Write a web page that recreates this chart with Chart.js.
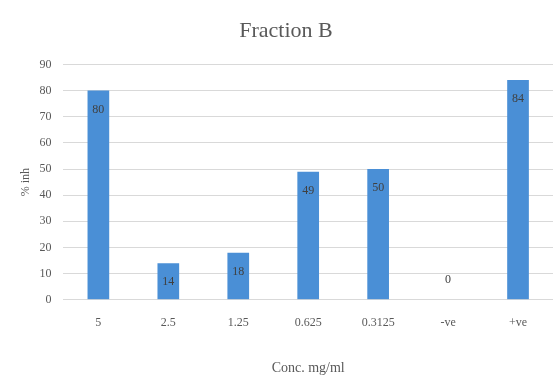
<!DOCTYPE html>
<html>
<head>
<meta charset="utf-8">
<script src="https://cdn.jsdelivr.net/npm/chart.js@4/dist/chart.umd.min.js"></script>
<style>
  html, body { margin: 0; padding: 0; background: #fff; }
  #wrap { width: 553px; height: 381px; }
</style>
</head>
<body>
<div id="wrap"><canvas id="c" width="553" height="381"></canvas></div>
<script>
// Concentrations tested and % inhibition for Fraction B
const categories = ['5', '2.5', '1.25', '0.625', '0.3125', '-ve', '+ve'];
const inhibition = [80, 14, 18, 49, 50, 0, 84];
const yTicks = [0, 10, 20, 30, 40, 50, 60, 70, 80, 90];

const FONT = '"Liberation Serif", serif';
const TEXT = '#595959';

// Value labels placed just inside the top of each bar (above the axis for zero)
const valueLabels = {
  id: 'valueLabels',
  afterDatasetsDraw(chart) {
    const ctx = chart.ctx;
    const meta = chart.getDatasetMeta(0);
    ctx.save();
    ctx.font = '12px ' + FONT;
    ctx.fillStyle = '#404040';
    ctx.textAlign = 'center';
    ctx.textBaseline = 'middle';
    meta.data.forEach((bar, i) => {
      const v = chart.data.datasets[0].data[i];
      const y = v === 0 ? bar.y - 20 : bar.y + 19;
      ctx.fillText(String(v), bar.x, y);
    });
    ctx.restore();
  }
};

new Chart(document.getElementById('c'), {
  type: 'bar',
  data: {
    labels: categories,
    datasets: [{
      data: inhibition,
      backgroundColor: '#4a8fd6',
      borderWidth: 0,
      categoryPercentage: 1,
      barPercentage: 0.31
    }]
  },
  options: {
    responsive: false,
    animation: false,
    layout: { padding: { left: 19, right: 0, top: 11, bottom: 4 } },
    plugins: {
      legend: { display: false },
      tooltip: { enabled: false },
      title: {
        display: true,
        text: 'Fraction B',
        color: TEXT,
        font: { family: FONT, size: 22, weight: 'normal' },
        padding: { top: 7, bottom: 20 }
      }
    },
    scales: {
      x: {
        grid: { display: false, drawTicks: false },
        border: { color: '#d9d9d9', width: 1 },
        ticks: { color: TEXT, font: { family: FONT, size: 12 }, padding: 16 },
        title: {
          display: true,
          text: 'Conc. mg/ml',
          color: TEXT,
          font: { family: FONT, size: 14 },
          padding: { top: 14, bottom: 0 }
        }
      },
      y: {
        min: 0,
        max: 90,
        afterBuildTicks(axis) { axis.ticks = yTicks.map(v => ({ value: v })); },
        grid: { color: '#d9d9d9', lineWidth: 1, drawTicks: false },
        border: { display: false },
        ticks: { color: TEXT, font: { family: FONT, size: 12 }, padding: 12 },
        title: {
          display: true,
          text: '% inh',
          color: TEXT,
          font: { family: FONT, size: 12 },
          padding: { top: 0, bottom: -6 }
        }
      }
    }
  },
  plugins: [valueLabels]
});
</script>
</body>
</html>
